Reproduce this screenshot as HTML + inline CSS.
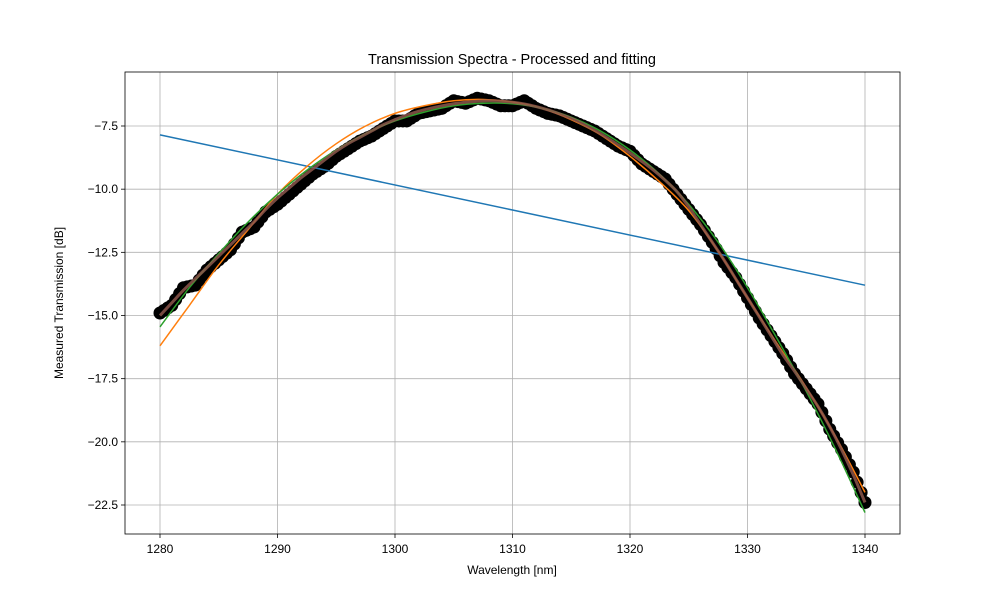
<!DOCTYPE html>
<html><head><meta charset="utf-8"><style>body{margin:0;background:#fff}svg{display:block;font-family:"Liberation Sans","DejaVu Sans",sans-serif}</style></head>
<body>
<svg id="chart" width="1000" height="600"></svg>
<script>
const wl = [];
for (let i = 1280; i <= 1340; i++) wl.push(i);
const smooth = [-15.0,-14.5,-14.0,-13.55,-13.1,-12.65,-12.2,-11.75,-11.3,-10.8,-10.35,-9.95,-9.55,-9.2,-8.85,-8.5,-8.2,-7.95,-7.7,-7.45,-7.25,-7.07,-6.92,-6.8,-6.7,-6.62,-6.56,-6.52,-6.5,-6.52,-6.56,-6.63,-6.73,-6.86,-7.02,-7.2,-7.42,-7.67,-7.95,-8.25,-8.57,-8.9,-9.25,-9.65,-10.1,-10.7,-11.4,-12.1,-12.8,-13.55,-14.3,-15.05,-15.8,-16.55,-17.2,-17.9,-18.6,-19.4,-20.3,-21.3,-22.4];
const measured = [-14.9,-14.6,-13.9,-13.8,-13.2,-12.8,-12.4,-11.7,-11.5,-10.9,-10.6,-10.2,-9.8,-9.4,-9.1,-8.7,-8.4,-8.1,-7.9,-7.6,-7.3,-7.3,-7.0,-6.9,-6.8,-6.5,-6.6,-6.4,-6.5,-6.7,-6.7,-6.5,-6.8,-7.0,-7.1,-7.3,-7.5,-7.7,-8.0,-8.3,-8.5,-9.0,-9.3,-9.6,-10.2,-10.8,-11.4,-12.1,-12.9,-13.5,-14.3,-15.1,-15.8,-16.5,-17.3,-17.9,-18.5,-19.5,-20.3,-21.2,-22.4];
const fitWl = [1280,1282.5,1285,1287.5,1290,1292.5,1295,1297.5,1300,1302.5,1305,1307.5,1310,1312.5,1315,1317.5,1320,1322.5,1325,1327.5,1330,1332.5,1335,1337.5,1340];
const orangeFit = [-16.2,-14.6,-13.0,-11.6,-10.2,-9.1,-8.2,-7.5,-7.0,-6.7,-6.5,-6.45,-6.55,-6.8,-7.25,-7.85,-8.7,-9.7,-10.85,-12.45,-14.3,-16.1,-17.85,-19.8,-22.0];
const greenFit = [-15.45,-13.9,-12.55,-11.3,-10.2,-9.25,-8.45,-7.8,-7.3,-6.95,-6.7,-6.6,-6.62,-6.8,-7.15,-7.7,-8.45,-9.4,-10.6,-12.1,-13.9,-15.9,-18.0,-20.3,-22.8];
const linWl = [1280,1340];
const linearFit = [-7.85,-13.8];
const xTicks = [1280,1290,1300,1310,1320,1330,1340];
const yTicks = [-7.5,-10.0,-12.5,-15.0,-17.5,-20.0,-22.5];

const L=125,R=900,T=72,B=534;
const x = v => 160 + (v-1280)*(705/60);
const y = v => 126 + (-7.5 - v)*(379/15);
const svg = document.getElementById('chart');
const NS='http://www.w3.org/2000/svg';
function mk(tag, attrs, parent){const e=document.createElementNS(NS,tag);for(const k in attrs)e.setAttribute(k,attrs[k]);(parent||svg).appendChild(e);return e;}

const grid = mk('g',{});


xTicks.forEach(t=>{
  const l=mk('line',{x1:x(t),x2:x(t),y1:T,y2:B,stroke:'#b0b0b0','stroke-width':0.8},grid);
  
  
  const tk=mk('line',{x1:x(t),x2:x(t),y1:B,y2:B+4,stroke:'#000','stroke-width':0.8});
  
  
  const tx=mk('text',{x:x(t),y:B+19,'text-anchor':'middle','font-size':12});
  tx.textContent=t;
  
  
});
yTicks.forEach(t=>{
  const l=mk('line',{x1:L,x2:R,y1:y(t),y2:y(t),stroke:'#b0b0b0','stroke-width':0.8},grid);
  
  
  const tk=mk('line',{x1:L-4,x2:L,y1:y(t),y2:y(t),stroke:'#000','stroke-width':0.8});
  
  
  const tx=mk('text',{x:L-7,y:y(t)+4,'text-anchor':'end','font-size':12});
  tx.textContent=t.toFixed(1).replace('-','\u2212');
  
  
});

const sc = mk('g',{});


wl.forEach((w,i)=>{
  const c=mk('circle',{cx:x(w),cy:y(measured[i]),r:6.5,fill:'#000'},sc);
  
  
  if(i<wl.length-1){
    for(const f of [0.33,0.67]){
      const c2=mk('circle',{cx:x(w)+f*(x(wl[i+1])-x(w)),cy:y(measured[i])+f*(y(measured[i+1])-y(measured[i])),r:6.5,fill:'#000'},sc);
      
      
    }
  }
});
function line(xs, ys, color, w, name, op){
  const pts=xs.map((v,i)=>[x(v),y(ys[i])]);
  let d='M'+pts[0][0]+','+pts[0][1];
  for(let i=0;i<pts.length-1;i++){
    const p0=pts[Math.max(i-1,0)],p1=pts[i],p2=pts[i+1],p3=pts[Math.min(i+2,pts.length-1)];
    d+=' C'+(p1[0]+(p2[0]-p0[0])/6)+','+(p1[1]+(p2[1]-p0[1])/6)+' '+(p2[0]-(p3[0]-p1[0])/6)+','+(p2[1]-(p3[1]-p1[1])/6)+' '+p2[0]+','+p2[1];
  }
  const p=mk('path',{d:d,fill:'none',stroke:color,'stroke-width':w,'stroke-linejoin':'round','stroke-opacity':op||1});
  
  
}
line(linWl, linearFit, '#1f77b4', 1.5, 'linear-fit-line');
line(fitWl, orangeFit, '#ff7f0e', 1.5, 'orange-fit-line');
line(fitWl, greenFit, '#2ca02c', 1.5, 'green-fit-line');
line(wl, smooth, '#8c564b', 3, 'smoothed-data-line', 0.85);

const fr=mk('rect',{x:L,y:T,width:R-L,height:B-T,fill:'none',stroke:'#000','stroke-width':0.8});


const ti=mk('text',{x:512,y:64,'text-anchor':'middle','font-size':14.5});
ti.textContent='Transmission Spectra - Processed and fitting';


const xl=mk('text',{x:512,y:574,'text-anchor':'middle','font-size':12});
xl.textContent='Wavelength [nm]';


const yl=mk('text',{x:63,y:303,'text-anchor':'middle','font-size':12,transform:'rotate(-90 63 303)'});
yl.textContent='Measured Transmission [dB]';


</script>
</body></html>
